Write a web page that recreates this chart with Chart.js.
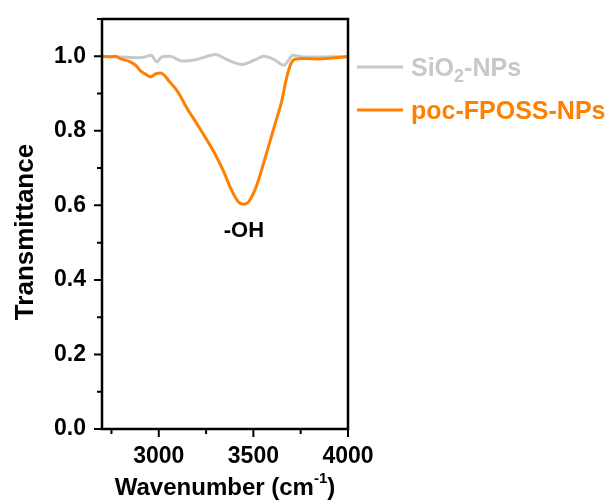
<!DOCTYPE html>
<html>
<head>
<meta charset="utf-8">
<script src="https://cdn.jsdelivr.net/npm/chart.js@4.4.1/dist/chart.umd.min.js"></script>
<style>
html, body { margin: 0; padding: 0; background: #fff; }
canvas { display: block; }
</style>
</head>
<body>
<canvas id="irChart" width="611" height="504" style="width:611px;height:504px"></canvas>
<script>
// wavenumber (cm-1) and transmittance
const siX = [2700, 2800, 2895, 2925, 2960, 2990, 3015, 3060, 3125, 3200, 3300, 3360, 3440, 3510, 3555, 3610, 3660, 3710, 3770, 3850, 3950, 4000];
const siY = [1.0, 0.998, 0.996, 0.998, 1.003, 0.985, 0.998, 1.0, 0.987, 0.991, 1.005, 0.991, 0.978, 0.991, 1.0, 0.991, 0.976, 1.003, 0.998, 0.998, 0.999, 0.997];

const focX = [2700, 2740, 2770, 2800, 2850, 2880, 2905, 2930, 2955, 2985, 3010, 3060, 3100, 3150, 3200, 3255, 3300, 3340, 3385, 3420, 3445, 3470, 3495, 3525, 3548, 3585, 3625, 3650, 3670, 3695, 3720, 3760, 3850, 3950, 4000];
const focY = [1.0, 0.999, 1.0, 0.993, 0.985, 0.975, 0.96, 0.952, 0.945, 0.953, 0.955, 0.93, 0.905, 0.86, 0.82, 0.775, 0.735, 0.694, 0.64, 0.61, 0.603, 0.607, 0.627, 0.665, 0.703, 0.767, 0.836, 0.88, 0.93, 0.976, 0.992, 0.994, 0.993, 0.997, 1.0];

const xTicks = [3000, 3500, 4000];
const xMinor = [2750, 3250, 3750];
const yTicks = [0, 0.2, 0.4, 0.6, 0.8, 1.0];
const yMinor = [0.1, 0.3, 0.5, 0.7, 0.9, 1.1];

const grey = '#c8c8c8';
const orange = '#ff8000';
const fontName = "'Liberation Sans', Arial, sans-serif";

function pts(xs, ys) {
    return xs.map((x, i) => ({x: x, y: ys[i]}));
}

const extras = {
    id: 'extras',
    afterDraw(chart) {
        const ctx = chart.ctx;
        const a = chart.chartArea;
        const xs = chart.scales.x;
        const ys = chart.scales.y;
        ctx.save();
        ctx.strokeStyle = '#000';
        ctx.lineWidth = 2.5;
        ctx.strokeRect(a.left, a.top, a.right - a.left, a.bottom - a.top);

        // tick marks, outward
        ctx.lineWidth = 2;
        ctx.beginPath();
        xTicks.forEach(v => { const p = xs.getPixelForValue(v); ctx.moveTo(p, a.bottom); ctx.lineTo(p, a.bottom + 8); });
        xMinor.forEach(v => { const p = xs.getPixelForValue(v); ctx.moveTo(p, a.bottom); ctx.lineTo(p, a.bottom + 5); });
        yTicks.forEach(v => { const p = ys.getPixelForValue(v); ctx.moveTo(a.left, p); ctx.lineTo(a.left - 8, p); });
        yMinor.forEach(v => { const p = ys.getPixelForValue(v); ctx.moveTo(a.left, p); ctx.lineTo(a.left - 5, p); });
        ctx.stroke();

        // axis titles
        ctx.fillStyle = '#000';
        ctx.font = 'bold 24px ' + fontName;
        ctx.textBaseline = 'alphabetic';
        const t1 = 'Wavenumber (cm';
        const w1 = ctx.measureText(t1).width;
        ctx.font = 'bold 15px ' + fontName;
        const wSup = ctx.measureText('-1').width;
        ctx.font = 'bold 24px ' + fontName;
        const w2 = ctx.measureText(')').width;
        let x0 = (a.left + a.right) / 2 - (w1 + wSup + w2) / 2;
        ctx.textAlign = 'left';
        ctx.fillText(t1, x0, 495);
        ctx.font = 'bold 15px ' + fontName;
        ctx.fillText('-1', x0 + w1, 483);
        ctx.font = 'bold 24px ' + fontName;
        ctx.fillText(')', x0 + w1 + wSup, 495);

        ctx.save();
        ctx.translate(33, 232);
        ctx.rotate(-Math.PI / 2);
        ctx.textAlign = 'center';
        ctx.font = 'bold 26px ' + fontName;
        ctx.fillText('Transmittance', 0, 0);
        ctx.restore();

        // peak label
        ctx.textAlign = 'center';
        ctx.font = 'bold 22px ' + fontName;
        ctx.fillText('-OH', xs.getPixelForValue(3450), ys.getPixelForValue(0.515));

        // legend
        ctx.lineWidth = 3;
        ctx.textAlign = 'left';
        chart.data.datasets.forEach((ds, i) => {
            const yy = i === 0 ? 67 : 110;
            ctx.strokeStyle = ds.borderColor;
            ctx.beginPath();
            ctx.moveTo(357, yy);
            ctx.lineTo(403, yy);
            ctx.stroke();
            ctx.fillStyle = ds.borderColor;
            if (i === 0) {
                ctx.font = 'bold 25px ' + fontName;
                ctx.fillText('SiO', 411, 76);
                let w = ctx.measureText('SiO').width;
                ctx.font = 'bold 18px ' + fontName;
                ctx.fillText('2', 411 + w, 82);
                w += ctx.measureText('2').width;
                ctx.font = 'bold 25px ' + fontName;
                ctx.fillText('-NPs', 411 + w, 76);
            } else {
                ctx.font = 'bold 25px ' + fontName;
                ctx.fillText(ds.label, 411, 119);
            }
        });
        ctx.restore();
    }
};

new Chart(document.getElementById('irChart'), {
    type: 'line',
    data: {
        datasets: [{
            label: 'SiO2-NPs',
            data: pts(siX, siY),
            borderColor: grey,
            borderWidth: 3,
            pointRadius: 0,
            cubicInterpolationMode: 'monotone',
            order: 1
        }, {
            label: 'poc-FPOSS-NPs',
            data: pts(focX, focY),
            borderColor: orange,
            borderWidth: 3,
            pointRadius: 0,
            cubicInterpolationMode: 'monotone',
            order: 0
        }]
    },
    options: {
        responsive: false,
        devicePixelRatio: 1,
        animation: false,
        layout: { padding: { left: 0, top: 19, right: 263, bottom: 0 } },
        plugins: { legend: { display: false }, tooltip: { enabled: false } },
        scales: {
            x: {
                type: 'linear',
                min: 2700,
                max: 4000,
                afterBuildTicks: s => { s.ticks = xTicks.map(v => ({value: v})); },
                afterFit: s => { s.height = 75; s.paddingLeft = 0; s.paddingRight = 0; },
                grid: { display: false, drawTicks: false },
                border: { display: false },
                ticks: { color: '#000', padding: 14, maxRotation: 0, callback: v => String(v), font: { family: fontName, size: 23, weight: 'bold' } }
            },
            y: {
                min: 0,
                max: 1.1,
                afterBuildTicks: s => { s.ticks = yTicks.map(v => ({value: v})); },
                afterFit: s => { s.width = 102; s.paddingTop = 0; s.paddingBottom = 0; },
                grid: { display: false, drawTicks: false },
                border: { display: false },
                ticks: { color: '#000', padding: 16, callback: v => v.toFixed(1), font: { family: fontName, size: 23, weight: 'bold' } }
            }
        }
    },
    plugins: [extras]
});
</script>
</body>
</html>
